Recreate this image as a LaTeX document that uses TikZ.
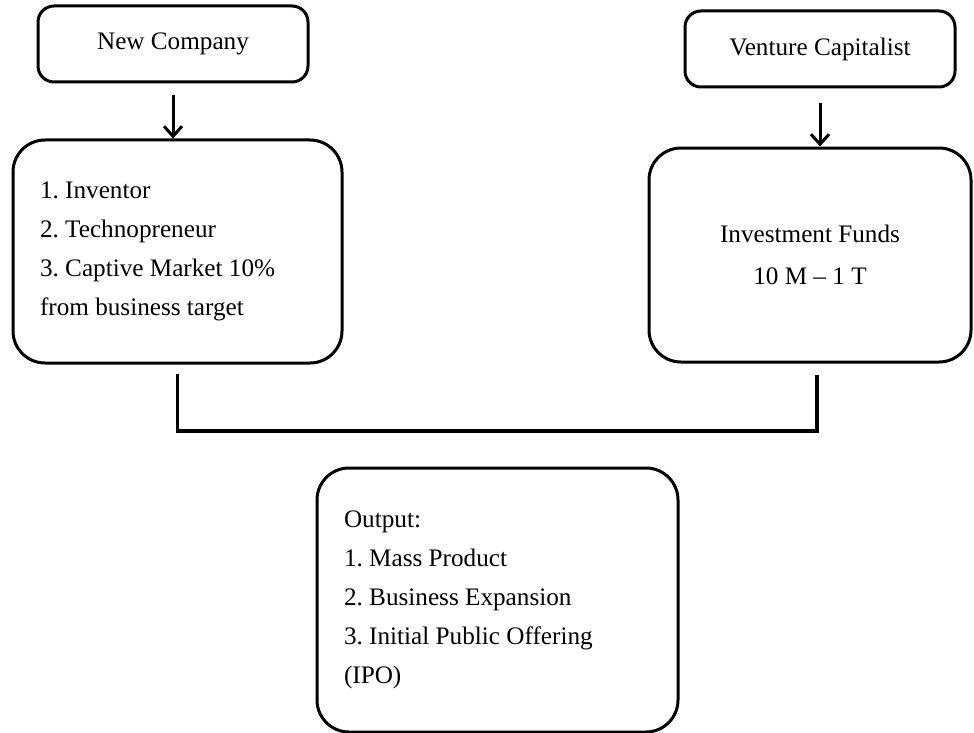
\documentclass[tikz,border=0pt]{standalone}
\usepackage{fontspec}
\setmainfont{Liberation Serif}
\usetikzlibrary{arrows.meta}
\frenchspacing

\begin{document}
\begin{tikzpicture}[x=0.5pt, y=-0.5pt,
  box/.style={draw, line width=1.5pt, rounded corners=8pt,
    font=\fontsize{12.6}{19.5}\selectfont},
  bigbox/.style={box, rounded corners=16pt, inner xsep=13.5pt},
  link/.style={line width=1.8pt},
  down/.style={line width=1.5pt, -{Straight Barb[length=5pt,width=9pt]}}]
\useasboundingbox (0,0) rectangle (974,733);
% the two parties
\node[box, minimum width=135pt, minimum height=38pt] (newco) at (173,44) {New Company};
\node[box, minimum width=135pt, minimum height=38pt] (vc) at (820,49) {Venture Capitalist};
% what each one brings
\node[bigbox, align=flush left, text width=137.5pt, minimum height=111.5pt] (team) at (177.5,251.5)
  {1. Inventor\\2. Technopreneur\\3. Captive Market 10\%\\from business target};
\node[bigbox, align=center, minimum width=161pt, minimum height=107pt,
  font=\fontsize{12.6}{21}\selectfont] (funds) at (810,255)
  {Investment Funds\\10 M -- 1 T};
% result
\node[bigbox, align=flush left, text width=153.5pt, minimum height=132pt] (output) at (497.5,600)
  {Output:\\1. Mass Product\\2. Business Expansion\\3. Initial Public Offering\\(IPO)};
\draw[down] ([yshift=-6pt]newco.south) -- (newco.south |- team.north);
\draw[down] ([yshift=-7.5pt]vc.south) -- (vc.south |- funds.north);
\coordinate (base) at (497,431);
\draw[link] ([yshift=-4.5pt]team.south) |- (base) -| ([xshift=3.5pt,yshift=-5.5pt]funds.south);
\end{tikzpicture}
\end{document}
